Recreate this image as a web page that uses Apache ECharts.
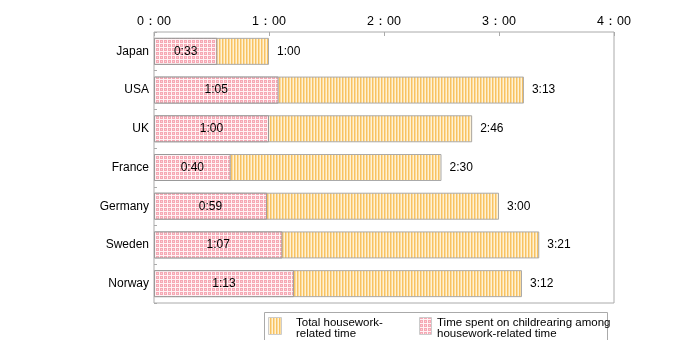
<!DOCTYPE html>
<html><head><meta charset="utf-8">
<script src="https://cdn.jsdelivr.net/npm/echarts@6/dist/echarts.min.js"></script>
<style>html,body{margin:0;padding:0;background:#fff}#c{width:700px;height:340px}</style>
</head><body><div id="c"></div>
<script>
const categories = ['Japan','USA','UK','France','Germany','Sweden','Norway'];
const totalMinutes = [60,193,166,150,180,201,192];
const childMinutes = [33,65,60,40,59,67,73];
const legendNames = ['Total housework-\nrelated time','Time spent on childrearing among\nhousework-related time'];

function fmt(m){const h=Math.floor(m/60),mm=m%60;return h+':'+(mm<10?'0':'')+mm;}

function yellowPattern(){
  const c=document.createElement('canvas');c.width=3;c.height=4;
  const g=c.getContext('2d');g.fillStyle='#fff2d6';g.fillRect(0,0,3,4);
  g.fillStyle='#f8c262';g.fillRect(0,0,1,4);
  g.fillStyle='#fcdc9c';g.fillRect(1,0,1,4);
  return c;
}
function pinkPattern(){
  const c=document.createElement('canvas');c.width=4;c.height=4;
  const g=c.getContext('2d');g.fillStyle='#fff2f4';g.fillRect(0,0,4,4);
  g.fillStyle='#f6a8b4';g.fillRect(0,0,3,3);
  g.fillStyle='#fbd0d7';g.fillRect(1,1,1,1);
  return c;
}
const yp={image:yellowPattern(),repeat:'repeat'};
const pp={image:pinkPattern(),repeat:'repeat'};
const FONT='Arial, "Liberation Sans", sans-serif';

const chart=echarts.init(document.getElementById('c'));
chart.setOption({
  animation:false,
  grid:{left:154,right:86,top:32,bottom:37,show:true,borderColor:'#aaa',borderWidth:1},
  xAxis:{type:'value',position:'top',min:0,max:240,interval:60,
    axisLine:{show:false},splitLine:{show:false},
    axisTick:{show:true,inside:true,length:4,lineStyle:{color:'#aaa'}},
    axisLabel:{color:'#000',fontSize:12.5,fontFamily:FONT,margin:4,
      formatter:v=>Math.floor(v/60)+'：00'}},
  yAxis:{type:'category',data:categories,inverse:true,
    axisLine:{show:false},
    axisTick:{show:true,inside:true,length:3,lineStyle:{color:'#aaa'}},
    axisLabel:{color:'#000',fontSize:12,fontFamily:FONT,margin:5}},
  series:[
    {name:legendNames[0],type:'bar',data:totalMinutes,barWidth:27,
      itemStyle:{color:yp,borderColor:'#aaa',borderWidth:1},
      label:{show:true,position:'right',distance:8,color:'#000',fontSize:12,fontFamily:FONT,formatter:p=>fmt(p.value)}},
    {name:legendNames[1],type:'bar',data:childMinutes,barWidth:27,barGap:'-100%',
      itemStyle:{color:pp,borderColor:'#999',borderWidth:1},
      label:{show:true,position:'inside',color:'#000',fontSize:12,fontFamily:FONT,formatter:p=>fmt(p.value)}}
  ],
  graphic:[
    {type:'rect',shape:{x:264.5,y:312.5,width:343,height:30},style:{fill:'#fff',stroke:'#aaa',lineWidth:1}},
    {type:'rect',shape:{x:268.5,y:317.5,width:13,height:17},style:{fill:yp,stroke:'#ccc',lineWidth:1}},
    {type:'text',x:296,y:328,style:{text:legendNames[0],fill:'#000',font:'11.5px '+FONT,lineHeight:11,verticalAlign:'middle'}},
    {type:'rect',shape:{x:419.5,y:317.5,width:12,height:17},style:{fill:pp,stroke:'#ccc',lineWidth:1}},
    {type:'text',x:437,y:328,style:{text:legendNames[1],fill:'#000',font:'11.5px '+FONT,lineHeight:11,verticalAlign:'middle'}}
  ]
});
</script></body></html>
